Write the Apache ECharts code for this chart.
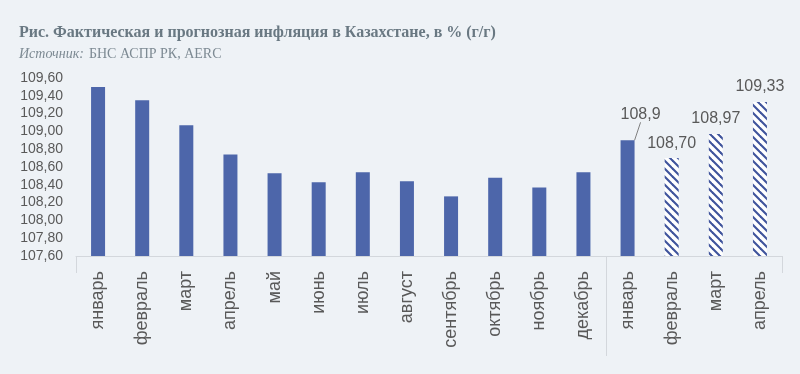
<!DOCTYPE html>
<html>
<head>
<meta charset="utf-8">
<script src="https://cdn.jsdelivr.net/npm/echarts@6/dist/echarts.min.js"></script>
<style>
html,body{margin:0;padding:0;background:#eef2f6;}
#chart{width:800px;height:374px;}
</style>
</head>
<body>
<div id="chart"></div>
<script>
// ---- data ----
var categories = ['январь','февраль','март','апрель','май','июнь','июль','август','сентябрь','октябрь','ноябрь','декабрь','январь','февраль','март','апрель'];
var actualValues = [109.50,109.35,109.07,108.74,108.53,108.43,108.54,108.44,108.27,108.48,108.37,108.54,108.9,null,null,null];
var forecastValues = [null,null,null,null,null,null,null,null,null,null,null,null,null,108.70,108.97,109.33];
var yTicks = {min:107.6, max:109.6, step:0.2};
var groupBoundaries = [0,12,16];
var labelledActualIndex = 12;

// ---- style ----
var barColor = '#4d66aa';
var stripeColor = '#3f549c';
var textColor = '#595959';

function makeStripes(){
  var c = document.createElement('canvas');
  var p = 8;
  c.width = p; c.height = p;
  var g = c.getContext('2d');
  g.fillStyle = '#ffffff';
  g.fillRect(0,0,p,p);
  g.strokeStyle = stripeColor;
  g.lineWidth = 2.1;
  for (var k=-1;k<=1;k++){
    g.beginPath();
    g.moveTo(k*p-1,-1);
    g.lineTo(k*p+p+1,p+1);
    g.stroke();
  }
  return c;
}

function fmt(v, d){ return v.toFixed(d).replace('.',','); }

var actualData = actualValues.map(function(v, i){
  if (i !== labelledActualIndex) return v;
  return {
    value:v,
    label:{show:true, position:'top', distance:5, fontSize:16, color:textColor, fontFamily:'Liberation Sans',
      formatter:function(p){ return fmt(p.value,1); }},
    labelLine:{show:true, lineStyle:{color:'#808080', width:1}}
  };
});

var chart = echarts.init(document.getElementById('chart'), null, {renderer:'canvas'});
var option = {
  backgroundColor:'#eef2f6',
  animation:false,
  title:[{
    text:'Рис. Фактическая и прогнозная инфляция в Казахстане, в % (г/г)',
    left:14, top:20,
    textStyle:{fontFamily:'Liberation Serif', fontWeight:'bold', fontSize:16, color:'#697882'}
  },{
    text:'{i|Источник:} {n|БНС АСПР РК, AERC}',
    left:14, top:40,
    textStyle:{fontWeight:'normal', rich:{
      i:{fontFamily:'Liberation Serif', fontStyle:'italic', fontWeight:'normal', fontSize:14, color:'#7d8a93'},
      n:{fontFamily:'Liberation Serif', fontWeight:'normal', fontSize:14, color:'#7d8a93'}
    }}
  }],
  grid:{left:76, right:18, top:78, bottom:118},
  xAxis:{
    type:'category',
    data:categories,
    axisLine:{show:true, lineStyle:{color:'#d3d7dc', width:1}},
    axisTick:{show:false},
    axisLabel:{rotate:90, fontSize:18, color:textColor, fontFamily:'Liberation Sans', margin:15}
  },
  yAxis:{
    type:'value',
    min:yTicks.min, max:yTicks.max, interval:yTicks.step,
    axisLine:{show:false}, axisTick:{show:false}, splitLine:{show:false},
    axisLabel:{fontSize:14, color:textColor, fontFamily:'Liberation Sans', margin:13,
      formatter:function(v){ return fmt(v,2); }}
  },
  series:[{
    type:'bar',
    data:actualData,
    barWidth:14,
    itemStyle:{color:barColor},
    label:{show:false},
    labelLayout:function(p){ return p.dataIndex===labelledActualIndex ? {dx:13, dy:-13} : {}; }
  },{
    type:'bar',
    data:forecastValues,
    barWidth:14,
    barGap:'-100%',
    itemStyle:{color:{image:makeStripes(), repeat:'repeat'}},
    label:{
      show:true, position:'top', distance:7, fontSize:16, color:textColor, fontFamily:'Liberation Sans',
      formatter:function(p){ return fmt(p.value,2); }
    }
  }]
};
chart.setOption(option);

// group separators below the category axis
var c0 = chart.convertToPixel({xAxisIndex:0}, 0);
var c1 = chart.convertToPixel({xAxisIndex:0}, 1);
var band = c1 - c0;
var yBase = chart.convertToPixel({yAxisIndex:0}, yTicks.min);
var lines = groupBoundaries.map(function(b, i){
  var x = Math.round(c0 - band/2 + b*band) + 0.5;
  var len = (i === 0 || i === groupBoundaries.length-1) ? 17 : 100;
  return {type:'line', shape:{x1:x, y1:yBase, x2:x, y2:yBase+len}, style:{stroke:'#d3d7dc', lineWidth:1}, silent:true};
});
chart.setOption({graphic:lines});
</script>
</body>
</html>
